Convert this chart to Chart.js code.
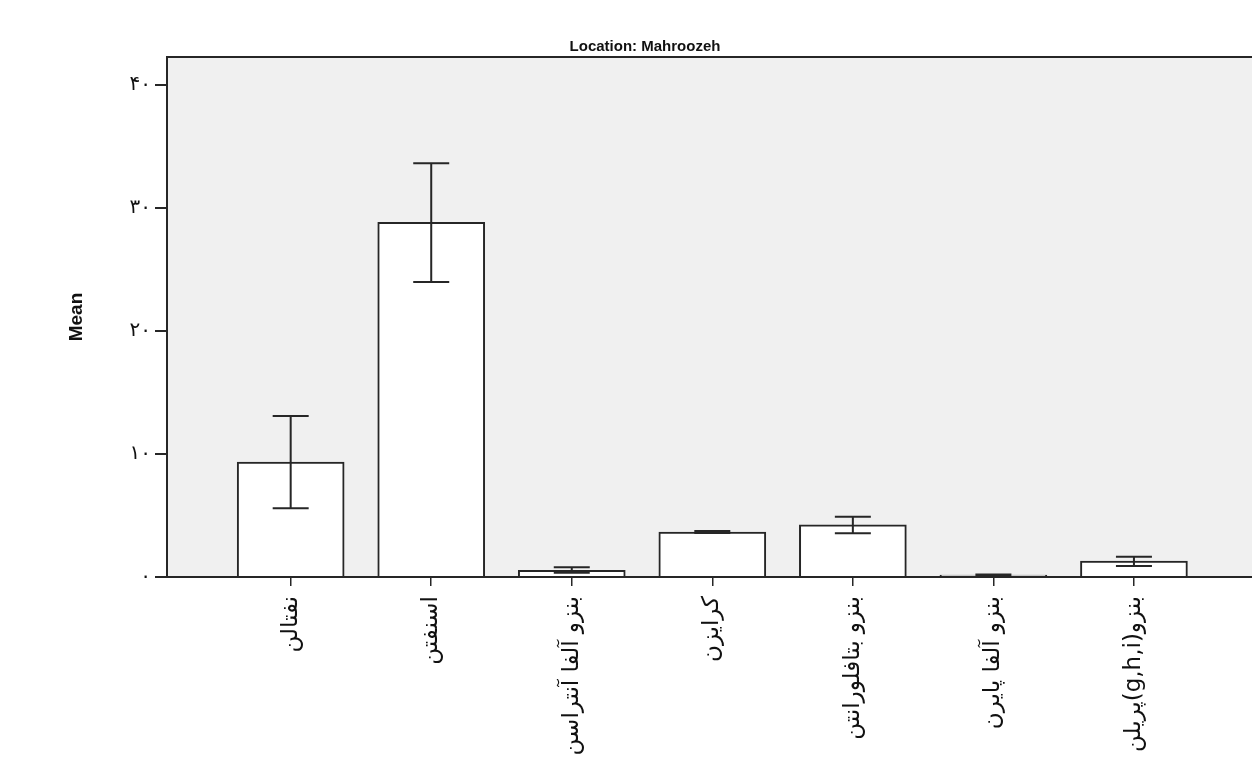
<!DOCTYPE html>
<html>
<head>
<meta charset="utf-8">
<script src="https://cdn.jsdelivr.net/npm/chart.js@4.4.1/dist/chart.umd.min.js"></script>
<style>
  html, body { margin: 0; padding: 0; background: #fff; }
  #wrap { width: 1252px; height: 758px; }
</style>
</head>
<body>
<div id="wrap"><canvas id="chart" width="1252" height="758"></canvas></div>
<script>
// data
const categories = ['نفتالن', 'اسنفتن', 'بنزو آلفا آنتراسن', 'کرایزن', 'بنزو بتافلورانتن', 'بنزو آلفا پایرن', 'بنزو(g,h,i)پریلن'];
const means = [9.35, 28.85, 0.55, 3.66, 4.25, 0.15, 1.3];
const errHigh = [13.1, 33.65, 0.8, 3.74, 4.9, 0.2, 1.65];
const errLow = [5.6, 24.0, 0.35, 3.58, 3.55, 0.1, 0.9];
const yTicks = [0, 10, 20, 30, 40];
const yTickLabels = ['۰', '۱۰', '۲۰', '۳۰', '۴۰'];
const chartTitle = 'Location: Mahroozeh';

const ink = '#262626';

// gray plot background + top frame + title
const frame = {
    id: 'frame',
    beforeDraw(chart) {
        const { ctx, chartArea: a } = chart;
        ctx.save();
        ctx.fillStyle = '#f0f0f0';
        ctx.fillRect(a.left, a.top, a.right - a.left, a.bottom - a.top);
        ctx.restore();
    },
    afterDraw(chart) {
        const { ctx, chartArea: a } = chart;
        ctx.save();
        ctx.strokeStyle = ink;
        ctx.lineWidth = 2;
        ctx.beginPath();
        ctx.moveTo(a.left - 1, a.top);
        ctx.lineTo(a.right, a.top);
        ctx.stroke();
        ctx.fillStyle = '#111';
        ctx.font = 'bold 15px "Liberation Sans", Arial, sans-serif';
        ctx.textAlign = 'center';
        ctx.textBaseline = 'middle';
        ctx.fillText(chartTitle, a.left + 478, a.top - 10);
        ctx.restore();
    }
};

// error bars drawn on top of the bars
const errorBars = {
    id: 'errorBars',
    afterDatasetsDraw(chart) {
        const { ctx, scales: { x, y } } = chart;
        ctx.save();
        ctx.strokeStyle = ink;
        ctx.lineWidth = 2;
        means.forEach((m, i) => {
            const px = x.getPixelForValue(i);
            const top = y.getPixelForValue(errHigh[i]);
            const bot = y.getPixelForValue(errLow[i]);
            ctx.beginPath();
            ctx.moveTo(px, top); ctx.lineTo(px, bot);
            ctx.moveTo(px - 18, top); ctx.lineTo(px + 18, top);
            ctx.moveTo(px - 18, bot); ctx.lineTo(px + 18, bot);
            ctx.stroke();
        });
        ctx.restore();
    }
};

new Chart(document.getElementById('chart'), {
    type: 'bar',
    data: {
        datasets: [{
            data: means.map((v, i) => ({ x: i, y: v })),
            backgroundColor: '#ffffff',
            borderColor: ink,
            borderWidth: 2,
            barThickness: 107
        }]
    },
    options: {
        responsive: false,
        animation: false,
        layout: { padding: { top: 57, right: 0, left: 0, bottom: 0 } },
        plugins: { legend: { display: false }, tooltip: { enabled: false } },
        scales: {
            x: {
                type: 'linear',
                min: -0.88,
                max: 6.84,
                offset: false,
                afterBuildTicks: s => { s.ticks = categories.map((c, i) => ({ value: i })); },
                afterFit: s => { s.height = 181; },
                grid: { offset: false, drawOnChartArea: false, drawTicks: true, tickLength: 9, color: ink, lineWidth: 1.5 },
                border: { display: true, color: ink, width: 2 },
                ticks: {
                    autoSkip: false,
                    minRotation: 90,
                    maxRotation: 90,
                    padding: 10,
                    color: '#111',
                    font: { family: '"DejaVu Sans", sans-serif', size: 23 },
                    // RTL embedding so the mixed Latin/Persian label keeps its order
                    callback: v => '\u202B' + categories[v] + '\u202C'
                }
            },
            y: {
                min: 0,
                max: 42.3,
                afterBuildTicks: s => { s.ticks = yTicks.map(v => ({ value: v })); },
                afterFit: s => { s.width = 167; },
                grid: { drawOnChartArea: false, drawTicks: true, tickLength: 12, color: ink, lineWidth: 2 },
                border: { display: true, color: ink, width: 2 },
                title: {
                    display: true,
                    text: 'Mean',
                    color: '#111',
                    font: { family: '"Liberation Sans", Arial, sans-serif', size: 19, weight: 'bold' },
                    padding: { top: 65, bottom: 0 }
                },
                ticks: {
                    padding: 4,
                    color: '#111',
                    font: { family: '"DejaVu Sans", sans-serif', size: 20 },
                    callback: v => yTickLabels[yTicks.indexOf(v)]
                }
            }
        }
    },
    plugins: [frame, errorBars]
});
</script>
</body>
</html>
